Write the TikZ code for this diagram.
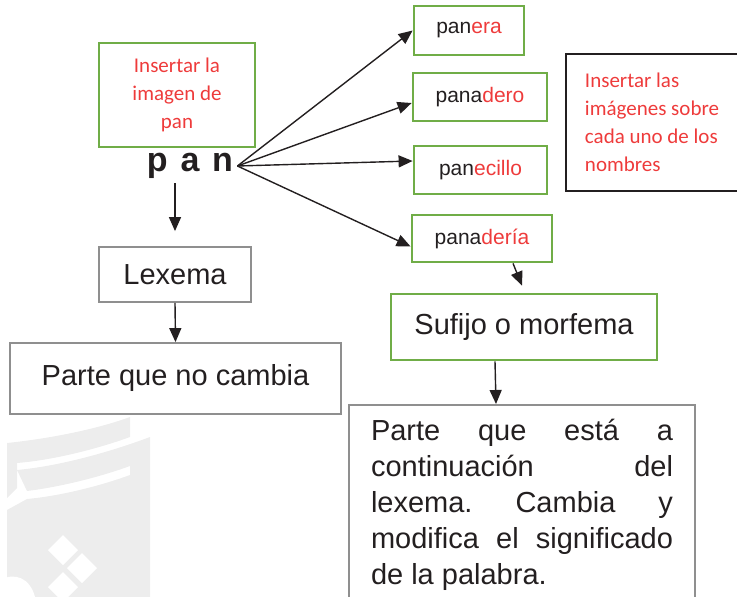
\documentclass[tikz,border=0pt]{standalone}
\usepackage{fontspec}
\setmainfont{Liberation Sans}
\newfontfamily\calfont{Carlito}
\usepackage{xcolor}
\usetikzlibrary{arrows.meta}
\definecolor{ink}{HTML}{231F20}
\definecolor{grn}{HTML}{70AD47}
\definecolor{rd}{HTML}{EE3B3B}
\definecolor{frame}{HTML}{8F8F8F}
\definecolor{wm}{HTML}{EDEDED}
\tikzset{
  greenbox/.style={draw=grn, line width=1.4pt, text=ink, inner sep=2pt},
  graybox/.style={draw=frame, line width=0.9pt, text=ink, inner sep=2pt},
  word/.style={greenbox, font=\fontsize{10.5}{12}\selectfont},
  big/.style={font=\fontsize{14.5}{18}\selectfont},
  hint/.style={text=rd, align=left, font=\calfont\fontsize{10.5}{14}\selectfont},
  arr/.style={draw=ink, line width=0.7pt, -{Triangle[length=7pt,width=6pt]}}
}
\newcommand{\suf}[1]{\textcolor{rd}{#1}}
\hyphenpenalty=10000
\exhyphenpenalty=10000
\tolerance=10000
\frenchspacing

\begin{document}
\begin{tikzpicture}[x=0.5pt,y=-0.5pt]
  \useasboundingbox (0,0) rectangle (737,597);

  % faint watermark behind the lower left
  \begin{scope}
    \fill[wm] (7,443) .. controls (55,438) and (100,428) .. (130,417)
      -- (130,437) .. controls (100,448) and (55,460) .. (17,463)
      -- (17,488) -- (7,498) -- cycle;
    \fill[wm] (17,470) .. controls (60,466) and (110,452) .. (150,437)
      -- (150,597) -- (130,597) -- (130,466)
      .. controls (100,477) and (60,487) .. (27,491) -- cycle;
    \fill[wm] (27,499) .. controls (60,496) and (100,486) .. (130,475)
      -- (130,597) -- (7,597) -- (7,510) -- cycle;
    \fill[white] (63,535) -- (78,550) -- (63,565) -- (48,550) -- cycle;
    \fill[white] (82,553) -- (97,568) -- (82,583) -- (67,568) -- cycle;
    \fill[white] (63,572) -- (78,587) -- (63,602) -- (48,587) -- cycle;
    \fill[white] (0,580) .. controls (15,572) and (30,578) .. (35,597) -- (0,597) -- cycle;
  \end{scope}

  % left branch
  \node[greenbox, hint, align=center, minimum width=78pt, minimum height=52pt]
    (imgpan) at (177,95) {Insertar la\\imagen de\\pan};
  \node[text=ink, font=\bfseries\fontsize{17}{20}\selectfont, inner sep=2pt]
    (pan) at (190,166) {p\hspace{6.4pt}a\hspace{6.4pt}n};
  \node[graybox, big, minimum width=76pt, minimum height=27.5pt]
    (lexema) at (175,274.5) {Lexema};
  \node[graybox, big, minimum width=165.5pt, minimum height=35.5pt]
    (parte) at (175.5,378.5) {Parte que no cambia};

  % derived words
  \node[word, minimum width=55pt, minimum height=24.5pt]
    (panera) at (469,30.5) {pan\suf{era}};
  \node[word, minimum width=67pt, minimum height=24pt]
    (panadero) at (480,97) {pana\suf{dero}};
  \node[word, minimum width=66.5pt, minimum height=24pt]
    (panecillo) at (480.5,170) {pan\suf{ecillo}};
  \node[word, minimum width=70pt, minimum height=23.5pt]
    (panaderia) at (482,238.5) {pana\suf{dería}};
  \node[draw=ink, line width=0.6pt, hint, minimum width=86pt, minimum height=68.5pt]
    (nota) at (652,122.5) {Insertar las\\imágenes sobre\\cada uno de los\\nombres};

  % right branch
  \node[greenbox, big, minimum width=133pt, minimum height=33pt]
    (sufijo) at (524,327) {Sufijo o morfema};
  \node[graybox, big, anchor=north, text width=151pt, align=justify,
        inner xsep=11pt, inner ysep=7pt, text depth=110pt]
    (parte2) at (522,404)
    {Parte que está a continuación del lexema. Cambia y modifica el
     significado de la palabra.};

  % connectors
  \draw[arr] (pan.east) -- (panera.west);
  \draw[arr] (pan.east) -- ([yshift=-3pt]panadero.west);
  \draw[arr] (pan.east) -- ([yshift=4.5pt]panecillo.west);
  \draw[arr] (pan.east) -- ([yshift=-4pt]panaderia.west);
  \draw[arr, shorten >=7.5pt] (pan.south -| lexema.north) -- (lexema.north);
  \draw[arr] (lexema.south) -- (parte.north);
  \draw[arr] ([xshift=15.5pt]panaderia.south) -- ([xshift=-1pt,yshift=3.5pt]sufijo.north);
  \draw[arr] ([xshift=-14.5pt]sufijo.south) -- ([xshift=-13pt]parte2.north);
\end{tikzpicture}
\end{document}
